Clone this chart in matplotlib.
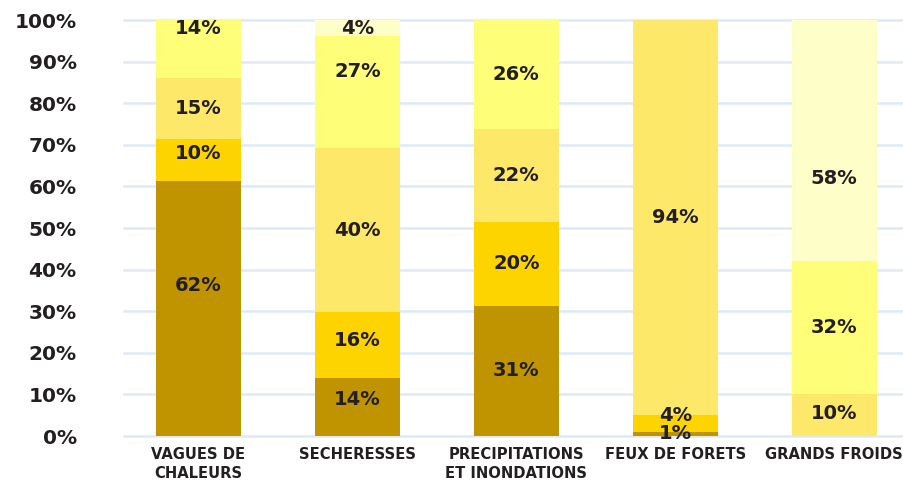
import matplotlib.pyplot as plt
import numpy as np

# Catégories et parts (%) par niveau d'intensité
categories = ['VAGUES DE\nCHALEURS', 'SECHERESSES', 'PRECIPITATIONS\nET INONDATIONS',
              'FEUX DE FORETS', 'GRANDS FROIDS']
dark = [62, 14, 31, 1, 0]
gold = [10, 16, 20, 4, 0]
light = [15, 40, 22, 94, 10]
bright = [14, 27, 26, 0, 32]
pale = [0, 4, 0, 0, 58]

series = [dark, gold, light, bright, pale]
colors = ['#BF9400', '#FDD300', '#FDE86A', '#FEFE78', '#FEFEC8']
text_color = '#231F20'

# petits décalages des étiquettes (points de %), comme sur l'original
label_nudge = {(0, 0): 5.5, (0, 1): 1.5, (0, 3): 5, (1, 1): 1.2, (1, 0): 1.8,
               (1, 3): 5, (3, 1): 2, (4, 4): -9, (4, 2): 0.5}

values = np.array(series, dtype=float)
totals = values.sum(axis=0)
heights = values / totals * 100

fig = plt.figure(figsize=(9.04, 4.82), dpi=100)
ax = fig.add_axes([0.137, 0.0954, 0.863, 0.8631])

x = np.arange(len(categories))
bottom = np.zeros(len(categories))
for s, (h, c) in enumerate(zip(heights, colors)):
    ax.bar(x, h, bottom=bottom, width=0.535, color=c, zorder=2)
    for i in range(len(categories)):
        if values[s, i] > 0:
            y = bottom[i] + h[i] / 2 + label_nudge.get((i, s), 0)
            ax.text(x[i], y, f'{int(values[s, i])}%', ha='center', va='center',
                    fontsize=14, fontweight='bold', color=text_color, zorder=3)
    bottom += h

ax.set_xlim(-0.47, 4.44)
ax.set_ylim(0, 100)
ax.set_yticks(np.arange(0, 101, 10))
ax.set_yticklabels([f'{v}%' for v in range(0, 101, 10)])
ax.yaxis.grid(True, color='#DDEBF7', linewidth=1.8, zorder=0)
ax.set_axisbelow(True)
for sp in ax.spines.values():
    sp.set_visible(False)
ax.tick_params(axis='y', length=0, pad=34, labelsize=14.5, labelcolor=text_color)
ax.tick_params(axis='x', length=0, pad=8, labelsize=10.6, labelcolor=text_color)
for t in ax.get_yticklabels():
    t.set_fontweight('bold')
ax.set_xticks(x)
ax.set_xticklabels(categories, fontweight='bold', linespacing=1.35)
for line in ax.get_ygridlines():
    line.set_clip_on(False)

plt.savefig('out.png', dpi=100)
plt.close()
